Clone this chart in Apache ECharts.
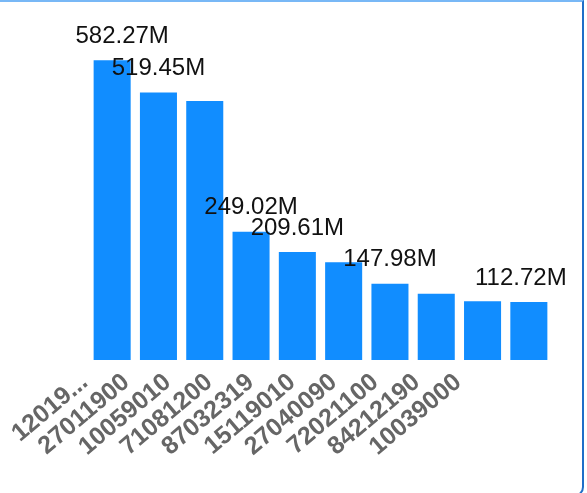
<!DOCTYPE html>
<html>
<head>
<meta charset="utf-8">
<script src="https://cdn.jsdelivr.net/npm/echarts@6/dist/echarts.min.js"></script>
<style>
html,body{margin:0;padding:0;background:#fff;overflow:hidden;}
#frame{position:absolute;left:-10px;top:0;width:594px;height:497px;box-sizing:border-box;border-top:2px solid #78b8f6;border-right:2px solid #1f6fc8;border-bottom:2px solid #1f6fc8;border-radius:0 0 10px 0;}
#chart{position:absolute;left:0;top:0;width:587px;height:493px;}
</style>
</head>
<body>
<div id="frame"></div>
<div id="chart"></div>
<script>
const categories = ['120190001','27011900','10059010','71081200','87032319','15119010','27040090','72021100','84212190','10039000'];
const values = [582270000, 519450000, 502700000, 249020000, 209610000, 190000000, 147980000, 128700000, 114000000, 112720000];
const labelShown = [true, true, false, true, true, false, true, false, false, true];

const chart = echarts.init(document.getElementById('chart'), null, {renderer:'canvas'});
const fmtCat = v => v.length > 8 ? v.slice(0,5) + '...' : v;
const lastIdx = values.length - 1;
chart.setOption({
  animation:false,
  backgroundColor:'transparent',
  grid:[
    {left:89, right:35, top:51, bottom:133},
    {left:64, width:415, top:51, bottom:133}
  ],
  xAxis:[
    {type:'category', gridIndex:0, data:categories, axisLine:{show:false}, axisTick:{show:false}, axisLabel:{show:false}},
    {type:'category', gridIndex:1, data:categories, axisLine:{show:false}, axisTick:{show:false},
     axisLabel:{interval:0, rotate:40, fontSize:25, fontWeight:'bold', color:'#666', fontFamily:'Arial', margin:19, formatter:fmtCat}}
  ],
  yAxis:[
    {type:'value', gridIndex:0, min:0, max:600000000, show:false, splitLine:{show:false}},
    {type:'value', gridIndex:1, show:false, splitLine:{show:false}}
  ],
  series:[{
    type:'bar',
    xAxisIndex:0, yAxisIndex:0,
    barCategoryGap:'20%',
    itemStyle:{color:'#118dff'},
    data: values.map((v,i)=> ({value:v, label:{show:labelShown[i], offset: i===0 ? [10,0] : (i===lastIdx ? [-8,0] : [0,0])}})),
    label:{show:true, position:'top', distance:12, fontSize:24, color:'#111', fontFamily:'Arial',
      formatter: p => (p.value/1e6).toFixed(2) + 'M'}
  }]
});
</script>
</body>
</html>
